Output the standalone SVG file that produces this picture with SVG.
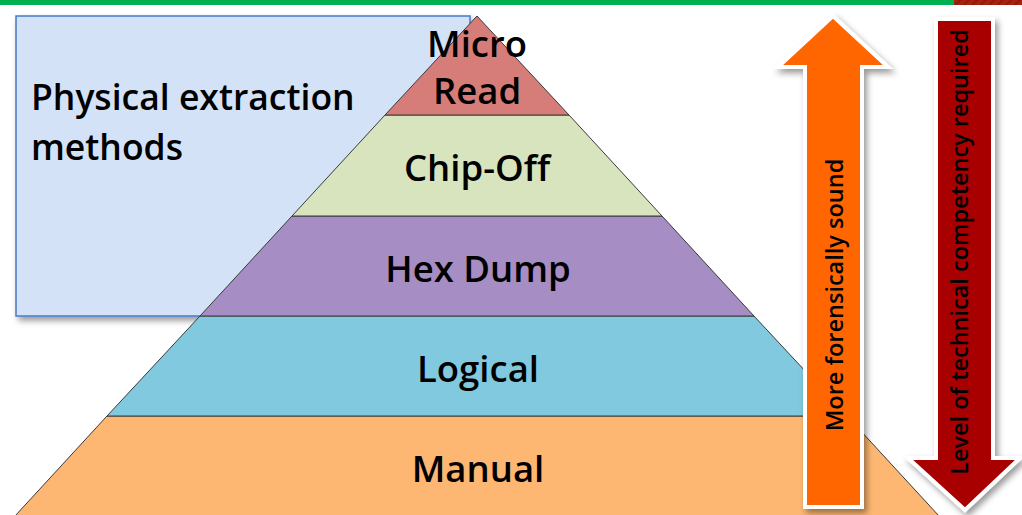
<svg xmlns="http://www.w3.org/2000/svg" width="1022" height="515" viewBox="0 0 1022 515">
<style>
.t{font-family:"Open Sans","Liberation Sans",sans-serif;font-weight:600;fill:#000}
.lbl{font-size:36.5px;text-anchor:middle}
.band{stroke:#3a3a3a;stroke-width:1}
.arrow-t{font-size:23.5px;text-anchor:middle}
</style>
<defs>
<filter id="sh" x="-20%" y="-10%" width="150%" height="130%">
<feDropShadow dx="3" dy="4" stdDeviation="3" flood-color="#000" flood-opacity="0.4"/>
</filter>
<pattern id="hatch" width="6" height="6" patternUnits="userSpaceOnUse" patternTransform="rotate(45)">
<rect width="6" height="6" fill="#A8200E"/>
<rect width="2" height="6" fill="#8E1A0B"/>
</pattern>
</defs>
<rect width="1022" height="515" fill="#fff"/>
<g id="topbar">
<rect x="0" y="0" width="954" height="5" fill="#00B050"/>
<rect x="954" y="0" width="68" height="5" fill="url(#hatch)"/>
</g>
<g id="physical-box">
<rect x="16" y="16" width="454" height="300" fill="#D3E2F6" stroke="#4A78C8" stroke-width="1.5" filter="url(#sh)"/>
<text class="t" x="31" y="110" font-size="35.5">Physical extraction</text>
<text class="t" x="31" y="160" font-size="35.5">methods</text>
</g>
<g id="manual">
<polygon class="band" points="15,516 107,416 847,416 939,516" fill="#FDB772"/>
<text class="t lbl" x="478" y="482">Manual</text>
</g>
<g id="logical">
<polygon class="band" points="107,416 200,316 754,316 847,416" fill="#80C9DF"/>
<text class="t lbl" x="478" y="382">Logical</text>
</g>
<g id="hexdump">
<polygon class="band" points="200,316 292,216 662,216 754,316" fill="#A68DC4"/>
<text class="t lbl" x="478" y="282">Hex Dump</text>
</g>
<g id="chipoff">
<polygon class="band" points="292,216 385,115 569,115 662,216" fill="#D7E4BD"/>
<text class="t lbl" x="477" y="181">Chip-Off</text>
</g>
<g id="microread">
<polygon class="band" points="385,115 477,16 569,115" fill="#D67D7A"/>
<text class="t lbl" x="477" y="57" font-size="35">Micro</text>
<text class="t lbl" x="477" y="104" font-size="35">Read</text>
</g>
<g id="arrow-forensic">
<polygon points="833,16 888,67 862,67 862,507 805,507 805,67 778,67" fill="#FF6600" stroke="#fff" stroke-width="4" stroke-linejoin="miter" filter="url(#sh)"/>
<text class="t arrow-t" transform="translate(843,295) rotate(-90)">More forensically sound</text>
</g>
<g id="arrow-competency">
<polygon points="936,19 993,19 993,458 1020,458 965,510 908,458 936,458" fill="#A80000" stroke="#fff" stroke-width="4" stroke-linejoin="miter" filter="url(#sh)"/>
<text class="t arrow-t" transform="translate(968,252) rotate(-90)">Level of technical competency required</text>
</g>
</svg>
